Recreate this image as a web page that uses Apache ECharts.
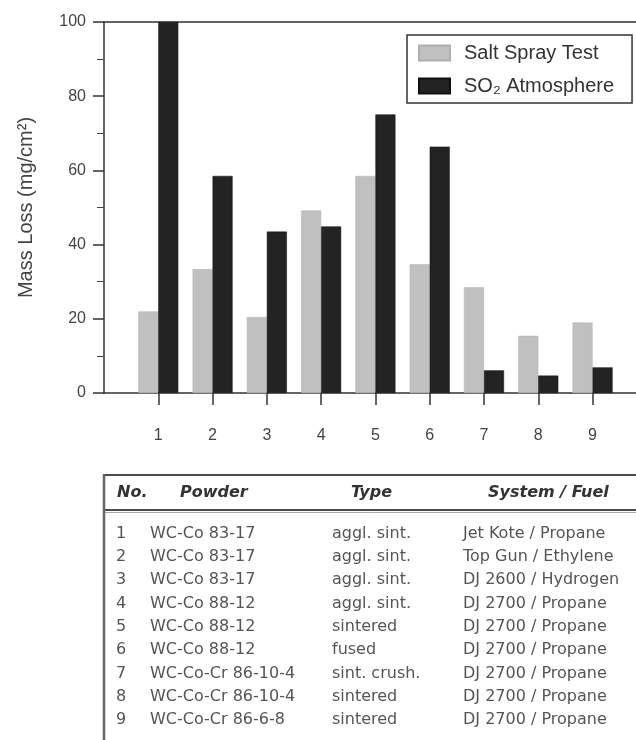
<!DOCTYPE html>
<html>
<head>
<meta charset="utf-8">
<script src="https://cdn.jsdelivr.net/npm/echarts@6/dist/echarts.min.js"></script>
<style>
html,body{margin:0;padding:0;background:#fff;}
#chart{width:636px;height:740px;}
</style>
</head>
<body>
<div id="chart"></div>
<script>
// ---- data ----
var categories = [1, 2, 3, 4, 5, 6, 7, 8, 9];
var saltSpray = [22.0, 33.4, 20.5, 49.2, 58.5, 34.7, 28.5, 15.4, 19.0];
var so2Atmosphere = [100, 58.5, 43.5, 44.9, 75.1, 66.4, 6.1, 4.7, 6.9];
var seriesNames = ['Salt Spray Test', 'SO\u2082 Atmosphere'];
var yTicks = [0, 20, 40, 60, 80, 100];
var tableHeaders = ['No.', 'Powder', 'Type', 'System / Fuel'];
var rowNos = ['1', '2', '3', '4', '5', '6', '7', '8', '9'];
var powders = ['WC-Co 83-17', 'WC-Co 83-17', 'WC-Co 83-17', 'WC-Co 88-12', 'WC-Co 88-12', 'WC-Co 88-12', 'WC-Co-Cr 86-10-4', 'WC-Co-Cr 86-10-4', 'WC-Co-Cr 86-6-8'];
var types = ['aggl. sint.', 'aggl. sint.', 'aggl. sint.', 'aggl. sint.', 'sintered', 'fused', 'sint. crush.', 'sintered', 'sintered'];
var systems = ['Jet Kote / Propane', 'Top Gun / Ethylene', 'DJ 2600 / Hydrogen', 'DJ 2700 / Propane', 'DJ 2700 / Propane', 'DJ 2700 / Propane', 'DJ 2700 / Propane', 'DJ 2700 / Propane', 'DJ 2700 / Propane'];

// ---- layout ----
var FONT = '"Liberation Sans", Arial, Helvetica, sans-serif';
var TFONT = '"DejaVu Sans", sans-serif';
var chart = echarts.init(document.getElementById('chart'), null, {renderer: 'canvas'});

function pairs(vals) {
  return categories.map(function (c, i) { return [c, vals[i]]; });
}

var graphics = [];
// table frame
graphics.push({type: 'line', shape: {x1: 104, y1: 475, x2: 640, y2: 475}, style: {stroke: '#4a4a4a', lineWidth: 2}});
graphics.push({type: 'line', shape: {x1: 104, y1: 510, x2: 640, y2: 510}, style: {stroke: '#4a4a4a', lineWidth: 2}});
graphics.push({type: 'line', shape: {x1: 104, y1: 512.5, x2: 640, y2: 512.5}, style: {stroke: '#aaaaaa', lineWidth: 1}});
graphics.push({type: 'line', shape: {x1: 104, y1: 474, x2: 104, y2: 742}, style: {stroke: '#666', lineWidth: 2.5}});
var headerX = [117, 180, 351, 488];
tableHeaders.forEach(function (h, i) {
  graphics.push({type: 'text', x: headerX[i], y: 493, style: {text: h, font: 'italic bold 16px ' + TFONT, fill: '#333', textVerticalAlign: 'middle'}});
});
var colX = [116, 150, 332, 463];
for (var r = 0; r < rowNos.length; r++) {
  var yy = 533.5 + r * 23.35;
  var cols = [rowNos[r], powders[r], types[r], systems[r]];
  cols.forEach(function (t, i) {
    graphics.push({type: 'text', x: colX[i], y: yy, style: {text: t, font: '16px ' + TFONT, fill: '#555', textVerticalAlign: 'middle'}});
  });
}

var option = {
  backgroundColor: '#ffffff',
  animation: false,
  grid: {left: 104, right: 0, top: 22, bottom: 347, containLabel: false},
  legend: {
    left: 407, top: 35, orient: 'vertical',
    data: seriesNames,
    itemWidth: 31, itemHeight: 15, itemGap: 13,
    padding: [8, 18, 7, 11],
    borderColor: '#333', borderWidth: 1.5,
    textStyle: {fontFamily: FONT, fontSize: 20, color: '#333', padding: [0, 0, 0, 9]},
    icon: 'rect'
  },
  xAxis: [{
    type: 'value', min: 0, max: 9.8, interval: 1, position: 'bottom',
    axisLine: {show: true, lineStyle: {color: '#333', width: 1.5}},
    axisTick: {show: true, length: 12, customValues: categories, lineStyle: {color: '#333', width: 1.5}},
    axisLabel: {show: true, margin: 35, customValues: categories, fontFamily: FONT, fontSize: 16, color: '#444',
      formatter: function (v) { return categories.indexOf(v) >= 0 ? String(v) : ''; }},
    splitLine: {show: false}
  }, {
    type: 'value', min: 0, max: 9.8, position: 'top',
    axisLine: {show: true, lineStyle: {color: '#333', width: 1.5}},
    axisTick: {show: false}, axisLabel: {show: false}, splitLine: {show: false}
  }],
  yAxis: {
    type: 'value', min: 0, max: 100, interval: 20,
    name: 'Mass Loss (mg/cm\u00b2)', nameLocation: 'middle', nameGap: 68,
    nameTextStyle: {fontFamily: FONT, fontSize: 20, color: '#444'},
    axisLine: {show: true, onZero: false, lineStyle: {color: '#333', width: 1.5}},
    axisTick: {show: true, length: 11, lineStyle: {color: '#333', width: 1.5}},
    minorTick: {show: true, splitNumber: 2, length: 7, lineStyle: {color: '#444', width: 1}},
    axisLabel: {margin: 18, fontFamily: FONT, fontSize: 16, color: '#444',
      formatter: function (v) { return yTicks.indexOf(v) >= 0 ? String(v) : ''; }},
    splitLine: {show: false}
  },
  series: [{
    name: seriesNames[0], type: 'bar', xAxisIndex: 0, data: pairs(saltSpray),
    barWidth: 20, barGap: '0%',
    itemStyle: {color: '#c0c0c0', borderColor: '#b0b0b0', borderWidth: 0.5}
  }, {
    name: seriesNames[1], type: 'bar', xAxisIndex: 0, data: pairs(so2Atmosphere),
    barWidth: 20, barGap: '0%',
    itemStyle: {color: '#232323', borderColor: '#111', borderWidth: 0.5}
  }],
  graphic: graphics
};
chart.setOption(option);
</script>
</body>
</html>
